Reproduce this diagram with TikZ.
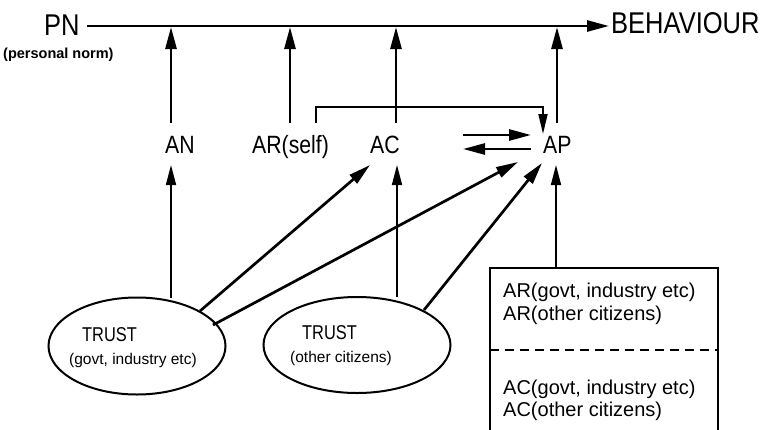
\documentclass[tikz,border=0pt]{standalone}
\usepackage{fontspec}
\setmainfont{Liberation Sans}
\newfontfamily\narrowfam{Liberation Sans}[FakeStretch=0.85]
\newfontfamily\trustfam{Liberation Sans}[FakeStretch=0.82]
\usetikzlibrary{arrows.meta,shapes.geometric}
\tikzset{
  tip/.style={-{Triangle[length=22pt,width=11pt]}},
  thickarr/.style={tip,line width=2.7pt},
  thinarr/.style={-{Triangle[length=20pt,width=10pt]},line width=1.6pt},
  lbl/.style={inner sep=0pt,anchor=base west},
  big/.style={font=\narrowfam\fontsize{30}{32}\selectfont},
  mid/.style={font=\narrowfam\fontsize{25}{27}\selectfont},
  boxt/.style={font=\fontsize{20}{22}\selectfont},
  trustt/.style={font=\trustfam\fontsize{20}{22}\selectfont},
  small/.style={font=\fontsize{15.5}{17}\selectfont},
  tiny/.style={font=\bfseries\fontsize{14.5}{16}\selectfont},
  oval/.style={draw,ellipse,line width=2pt,inner sep=0pt},
}
\begin{document}
\begin{tikzpicture}[x=1pt,y=-1pt]
\useasboundingbox (0,0) rectangle (763,429);
% top texts
\node[lbl,big] (PN) at (44,35) {PN};
\node[lbl,tiny] (PNs) at (3,58) {(personal norm)};
\node[lbl,big] (BEH) at (611,33) {BEHAVIOUR};
% middle labels
\node[lbl,mid] (AN) at (165,153) {AN};
\node[lbl,mid] (ARs) at (252,153) {AR(self)};
\node[lbl,mid] (AC) at (370,153) {AC};
\node[lbl,mid] (AP) at (543,153) {AP};
% ellipses
\node[oval,minimum width=177pt,minimum height=97pt] (T1) at (137,346) {};
\node[lbl,trustt] (T1a) at (82,341) {TRUST};
\node[lbl,small] (T1b) at (69,364) {(govt, industry etc)};
\node[oval,minimum width=187pt,minimum height=96pt] (T2) at (357,345) {};
\node[lbl,trustt] (T2a) at (302,339) {TRUST};
\node[lbl,small] (T2b) at (290,362) {(other citizens)};
% box
\coordinate (BoxTL) at (490,268);
\coordinate (BoxTR) at (718,268);
\coordinate (BoxBL) at (490,432);
\coordinate (BoxBR) at (718,432);
\draw[line width=1.8pt] (BoxBL) -- (BoxTL) -- (BoxTR) -- (BoxBR);
\coordinate (DashL) at (490,350);
\coordinate (DashR) at (718,350);
\draw[line width=1.8pt,dash pattern=on 9pt off 6pt] (DashL) -- (DashR);
\node[lbl,boxt] (B1) at (503,297) {AR(govt, industry etc)};
\node[lbl,boxt] (B2) at (503,320) {AR(other citizens)};
\node[lbl,boxt] (B3) at (503,394) {AC(govt, industry etc)};
\node[lbl,boxt] (B4) at (503,416) {AC(other citizens)};
% main line
\coordinate (L0) at (87,26);
\coordinate (L1) at (609,26);
\draw[thickarr] (L0) -- (L1);
% up arrows to main line
\coordinate (uAN0) at (171,123); \coordinate (uAN1) at (171,27);
\coordinate (uAR0) at (290,123); \coordinate (uAR1) at (290,27);
\coordinate (uAC0) at (396,123); \coordinate (uAC1) at (396,27);
\coordinate (uAP0) at (557,123); \coordinate (uAP1) at (557,27);
\draw[thickarr] (uAN0) -- (uAN1);
\draw[thickarr] (uAR0) -- (uAR1);
\draw[thickarr] (uAC0) -- (uAC1);
\draw[thickarr] (uAP0) -- (uAP1);
% bracket AR(self) -> AP
\coordinate (br0) at (316,123);
\coordinate (br1) at (316,107);
\coordinate (br2) at (543,107);
\coordinate (br3) at (543,134);
\draw[line width=1.8pt,-{Triangle[length=20pt,width=9pt]}] (br0) -- (br1) -- (br2) -- (br3);
% double arrows AC <-> AP
\coordinate (d0) at (463,135); \coordinate (d1) at (531,135);
\coordinate (d2) at (531,149); \coordinate (d3) at (463,149);
\draw[thickarr] (d0) -- (d1);
\draw[thickarr] (d2) -- (d3);
% lower arrows
\coordinate (lAN0) at (171,298); \coordinate (lAN1) at (171,165);
\coordinate (lAC0) at (397,297); \coordinate (lAC1) at (397,165);
\coordinate (lAP0) at (556,268); \coordinate (lAP1) at (556,165);
\draw[thinarr] (lAN0) -- (lAN1);
\draw[thinarr] (lAC0) -- (lAC1);
\draw[thinarr] (lAP0) -- (lAP1);
% diagonals
\coordinate (e1a) at (200,311); \coordinate (tAC) at (370,165);
\coordinate (e1b) at (213,325); \coordinate (tAP1) at (518,162);
\coordinate (e2a) at (424,310); \coordinate (tAP2) at (542,163);
\draw[thickarr] (e1a) -- (tAC);
\draw[thickarr] (e1b) -- (tAP1);
\draw[thickarr] (e2a) -- (tAP2);
\end{tikzpicture}
\end{document}
